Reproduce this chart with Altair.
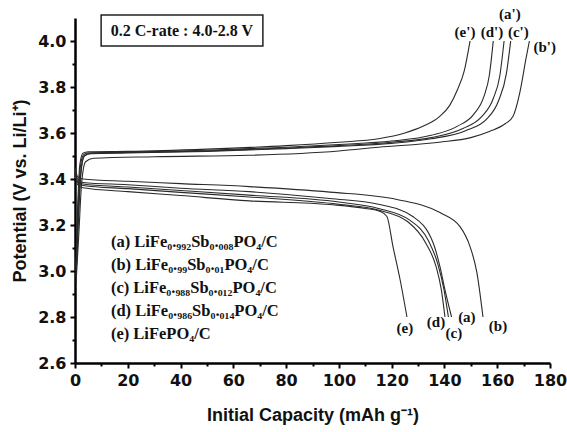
import altair as alt
import pandas as pd

# ---------------- data ----------------
# Charge curves (a')-(e')
ch_a_x = [0.4, 1.2, 2.2, 3.5, 6, 20, 50, 80, 100, 120, 135, 147, 154, 158.5, 161, 162.6]
ch_a_y = [2.97, 3.20, 3.42, 3.50, 3.512, 3.515, 3.522, 3.535, 3.545, 3.560, 3.580, 3.620, 3.670, 3.750, 3.850, 4.0]
ch_b_x = [0.4, 1.4, 2.5, 4.0, 7, 30, 66, 100, 115, 138, 150, 157, 163, 166, 168.6, 171, 172.2]
ch_b_y = [2.95, 3.15, 3.38, 3.475, 3.49, 3.497, 3.503, 3.522, 3.538, 3.560, 3.580, 3.607, 3.640, 3.673, 3.778, 3.930, 4.0]
ch_c_x = [0.4, 1.2, 2.2, 3.5, 6, 20, 50, 80, 100, 120, 135, 148, 156, 160.5, 163.5, 165.1]
ch_c_y = [2.98, 3.22, 3.43, 3.50, 3.51, 3.513, 3.52, 3.532, 3.542, 3.555, 3.575, 3.610, 3.660, 3.740, 3.860, 4.0]
ch_d_x = [0.4, 1.1, 2.0, 3.2, 5, 20, 50, 80, 100, 120, 135, 145, 151, 155, 157, 158.5]
ch_d_y = [3.00, 3.25, 3.45, 3.505, 3.513, 3.517, 3.525, 3.538, 3.550, 3.565, 3.590, 3.630, 3.680, 3.760, 3.850, 4.0]
ch_e_x = [0.3, 1.0, 1.8, 3.0, 5, 20, 50, 80, 100, 115, 125, 132, 138, 142, 145, 147.5, 149.7]
ch_e_y = [3.02, 3.28, 3.46, 3.512, 3.518, 3.52, 3.53, 3.545, 3.56, 3.575, 3.60, 3.63, 3.67, 3.72, 3.79, 3.87, 4.0]

# Discharge curves (a)-(e)
dc_a_x = [0, 1, 3, 20, 40, 66, 96.6, 115, 128, 135.7, 138.3, 140.2, 142.7]
dc_a_y = [3.44, 3.40, 3.385, 3.375, 3.36, 3.345, 3.315, 3.29, 3.237, 3.123, 3.019, 2.918, 2.80]
dc_b_x = [0, 1, 3, 20, 40, 66, 96.6, 122, 138.3, 145.9, 149.7, 152.3, 154.6]
dc_b_y = [3.45, 3.41, 3.40, 3.39, 3.38, 3.367, 3.343, 3.311, 3.254, 3.193, 3.106, 2.993, 2.80]
dc_c_x = [0, 1, 3, 20, 40, 66, 100, 115, 127, 134, 137.5, 139.8, 141.5]
dc_c_y = [3.43, 3.39, 3.378, 3.365, 3.35, 3.33, 3.30, 3.272, 3.22, 3.13, 3.03, 2.92, 2.80]
dc_d_x = [0, 1, 3, 20, 40, 66, 100, 115, 126, 133, 136.8, 138.8, 140.2]
dc_d_y = [3.43, 3.385, 3.372, 3.358, 3.342, 3.322, 3.29, 3.265, 3.215, 3.12, 3.02, 2.92, 2.80]
dc_e_x = [0, 1, 3, 20, 40, 66, 96.6, 110, 115.6, 118.2, 120.5, 123.2, 125.8]
dc_e_y = [3.42, 3.375, 3.362, 3.345, 3.328, 3.305, 3.289, 3.272, 3.259, 3.237, 3.106, 2.962, 2.80]

curves = {
    "ch_a": (ch_a_x, ch_a_y), "ch_b": (ch_b_x, ch_b_y), "ch_c": (ch_c_x, ch_c_y),
    "ch_d": (ch_d_x, ch_d_y), "ch_e": (ch_e_x, ch_e_y),
    "dc_a": (dc_a_x, dc_a_y), "dc_b": (dc_b_x, dc_b_y), "dc_c": (dc_c_x, dc_c_y),
    "dc_d": (dc_d_x, dc_d_y), "dc_e": (dc_e_x, dc_e_y),
}

# curve labels
lab_text = ["(a')", "(e')", "(d')", "(c')", "(b')", "(e)", "(d)", "(c)", "(a)", "(b)"]
lab_x = [164.8, 147.8, 158.0, 168.0, 178.0, 125.0, 136.8, 143.6, 148.5, 160.3]
lab_y = [4.118, 4.039, 4.039, 4.039, 3.974, 2.753, 2.779, 2.731, 2.801, 2.761]

# sample legend text
leg_text = [
    "(a) LiFe₀.₉₉₂Sb₀.₀₀₈PO₄/C",
    "(b) LiFe₀.₉₉Sb₀.₀₁PO₄/C",
    "(c) LiFe₀.₉₈₈Sb₀.₀₁₂PO₄/C",
    "(d) LiFe₀.₉₈₆Sb₀.₀₁₄PO₄/C",
    "(e) LiFePO₄/C",
]
leg_x = [13.6] * 5
leg_y = [3.128, 3.027, 2.927, 2.827, 2.728]

# condition box
box_text = ["0.2 C-rate : 4.0-2.8 V"]
box_x = [9.9]
box_x2 = [71.2]
box_y = [3.978]
box_y2 = [4.113]
box_tx = [40.5]
box_ty = [4.045]

x_major = [0, 20, 40, 60, 80, 100, 120, 140, 160, 180]
x_minor = [10, 30, 50, 70, 90, 110, 130, 150, 170]
y_major = [2.6, 2.8, 3.0, 3.2, 3.4, 3.6, 3.8, 4.0]
y_minor = [2.7, 2.9, 3.1, 3.3, 3.5, 3.7, 3.9]

# ---------------- build tables ----------------
rows = []
for name, (xs, ys) in curves.items():
    for i, (a, b) in enumerate(zip(xs, ys)):
        rows.append({"curve": name, "cap": a, "v": b, "i": i})
df = pd.DataFrame(rows)
lab_df = pd.DataFrame({"t": lab_text, "x": lab_x, "y": lab_y})
leg_df = pd.DataFrame({"t": leg_text, "x": leg_x, "y": leg_y})
box_df = pd.DataFrame({"t": box_text, "x": box_x, "x2": box_x2, "y": box_y, "y2": box_y2,
                       "tx": box_tx, "ty": box_ty})

SANS = "Liberation Sans"
TICKF = "DejaVu Sans"
SERIF = "Liberation Serif, DejaVu Serif"

xscale = alt.Scale(domain=[0, 180], nice=False, zero=False)
yscale = alt.Scale(domain=[2.6, 4.1], nice=False, zero=False)

x_axis = alt.Axis(values=x_major, format="d", orient="bottom", title="Initial Capacity (mAh g⁻¹)",
                  labelFont=TICKF, labelFontWeight="bold", labelFontSize=16, labelColor="#111",
                  titleFont=SANS, titleFontWeight="bold", titleFontSize=18, titleColor="#111",
                  titlePadding=18, labelPadding=4, tickSize=5, tickWidth=2, tickColor="#000",
                  domainColor="#000", domainWidth=2.5, grid=False, labelFlush=False)
y_axis = alt.Axis(values=y_major, format=".1f", orient="left", title="Potential (V vs. Li/Li⁺)",
                  labelFont=TICKF, labelFontWeight="bold", labelFontSize=16, labelColor="#111",
                  titleFont=SANS, titleFontWeight="bold", titleFontSize=18, titleColor="#111",
                  titlePadding=8, labelPadding=4, tickSize=5, tickWidth=2, tickColor="#000",
                  domainColor="#000", domainWidth=2.5, grid=False, labelFlush=False)
x_axis_minor = alt.Axis(values=x_minor, orient="bottom", title=None, labels=False, domain=False,
                        tickSize=3, tickWidth=2, tickColor="#000", grid=False)
y_axis_minor = alt.Axis(values=y_minor, orient="left", title=None, labels=False, domain=False,
                        tickSize=3, tickWidth=2, tickColor="#000", grid=False)

lines = alt.Chart(df).mark_line(color="#2a2a2a", strokeWidth=1.1, interpolate="monotone").encode(
    x=alt.X("cap:Q", scale=xscale, axis=x_axis),
    y=alt.Y("v:Q", scale=yscale, axis=y_axis),
    detail="curve:N",
    order="i:Q",
)

minor = alt.Chart(lab_df).mark_point(opacity=0).encode(
    x=alt.X("x:Q", scale=xscale, axis=x_axis_minor),
    y=alt.Y("y:Q", scale=yscale, axis=y_axis_minor),
)

labels = alt.Chart(lab_df).mark_text(font=SERIF, fontWeight="bold", fontSize=15, color="#111",
                                     align="center", baseline="middle").encode(
    x=alt.X("x:Q", scale=xscale, axis=None),
    y=alt.Y("y:Q", scale=yscale, axis=None),
    text="t:N",
)

legend = alt.Chart(leg_df).mark_text(font=SERIF, fontWeight="bold", fontSize=16.5, color="#111",
                                     align="left", baseline="middle").encode(
    x=alt.X("x:Q", scale=xscale, axis=None),
    y=alt.Y("y:Q", scale=yscale, axis=None),
    text="t:N",
)

box = alt.Chart(box_df).mark_rect(fill="white", stroke="#222", strokeWidth=1.5).encode(
    x=alt.X("x:Q", scale=xscale, axis=None), x2="x2:Q",
    y=alt.Y("y:Q", scale=yscale, axis=None), y2="y2:Q",
)
box_t = alt.Chart(box_df).mark_text(font=SERIF, fontWeight="bold", fontSize=16, color="#111",
                                    align="center", baseline="middle").encode(
    x=alt.X("tx:Q", scale=xscale, axis=None),
    y=alt.Y("ty:Q", scale=yscale, axis=None),
    text="t:N",
)

chart = alt.layer(lines, minor, labels, legend, box, box_t).resolve_axis(
    x="independent", y="independent"
).properties(
    width=475, height=345,
    padding={"left": 75, "top": 18, "right": 17, "bottom": 69},
    autosize=alt.AutoSizeParams(type="none"),
    background="white",
).configure_view(stroke=None)

chart.save("out.html", embed_options={"renderer": "svg", "actions": False})
